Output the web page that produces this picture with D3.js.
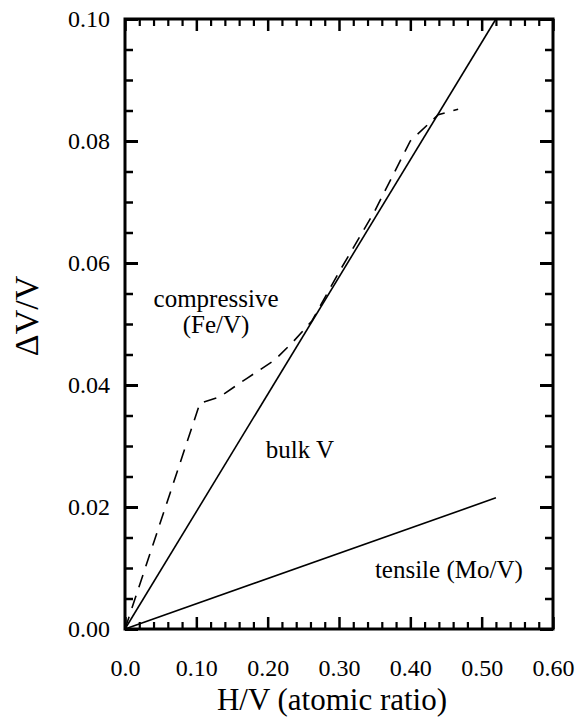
<!DOCTYPE html>
<html>
<head>
<meta charset="utf-8">
<script src="https://cdn.jsdelivr.net/npm/d3@7"></script>
<style>
  body { margin: 0; background: #fff; }
  svg { display: block; }
</style>
</head>
<body>
<div id="app"></div>
<script>
// data
const bulkX = [0, 0.52];
const bulkY = [0, 0.100];
const tensileX = [0, 0.52];
const tensileY = [0, 0.0215];
const compX = [0, 0.105, 0.132, 0.171, 0.210, 0.235, 0.262, 0.30, 0.35, 0.40, 0.439, 0.467];
const compY = [0, 0.037, 0.038, 0.0411, 0.0441, 0.0470, 0.0505, 0.0585, 0.0685, 0.0800, 0.0843, 0.0852];

const xMajor = [0, 0.1, 0.2, 0.3, 0.4, 0.5, 0.6];
const xMinor = d3.range(0.02, 0.6, 0.02).filter(v => Math.abs(v * 10 - Math.round(v * 10)) > 1e-6);
const yMajor = [0, 0.02, 0.04, 0.06, 0.08, 0.10];
const yMinor = d3.range(0.005, 0.1, 0.005).filter(v => Math.abs(v * 50 - Math.round(v * 50)) > 1e-6);

const labels = [
  { lines: ['compressive', '(Fe/V)'], x: 0.1276, y: 0.0528 },
  { lines: ['bulk V'], x: 0.2453, y: 0.0280 },
  { lines: ['tensile (Mo/V)'], x: 0.454, y: 0.0084 }
];

const FONT = '"Liberation Serif", "Times New Roman", Times, "DejaVu Serif", "Liberation Sans", sans-serif';

const W = 585, H = 719;
const pLeft = 125, pRight = 553, pTop = 19, pBottom = 629;

const x = d3.scaleLinear().domain([0, 0.6]).range([pLeft, pRight]);
const y = d3.scaleLinear().domain([0, 0.1]).range([pBottom, pTop]);

const svg = d3.select('#app').append('svg')
  .attr('width', W).attr('height', H)
  .attr('font-family', FONT);

svg.append('rect').attr('width', W).attr('height', H).attr('fill', '#fff');

// axes: ticks point inward
function styleAxis(g, sw) {
  g.attr('font-family', FONT).attr('font-size', 24);
  g.select('.domain').remove();
  g.selectAll('line').attr('stroke', '#000').attr('stroke-width', sw);
  g.selectAll('text').attr('fill', '#000');
}

const fmtX = d => d === 0 ? '0.0' : d3.format('.2f')(d);

svg.append('g').attr('transform', `translate(0,${pBottom})`)
  .call(d3.axisBottom(x).tickValues(xMajor).tickSize(-12).tickPadding(30).tickFormat(fmtX))
  .call(g => styleAxis(g, 2.5));
svg.append('g').attr('transform', `translate(0,${pBottom})`)
  .call(d3.axisBottom(x).tickValues(xMinor).tickSize(-7).tickFormat(''))
  .call(g => styleAxis(g, 2.2));

svg.append('g').attr('transform', `translate(0,${pTop})`)
  .call(d3.axisTop(x).tickValues(xMajor).tickSize(-12).tickFormat(''))
  .call(g => styleAxis(g, 2.5));
svg.append('g').attr('transform', `translate(0,${pTop})`)
  .call(d3.axisTop(x).tickValues(xMinor).tickSize(-7).tickFormat(''))
  .call(g => styleAxis(g, 2.2));

svg.append('g').attr('transform', `translate(${pLeft},0)`)
  .call(d3.axisLeft(y).tickValues(yMajor).tickSize(-13).tickPadding(15).tickFormat(d3.format('.2f')))
  .call(g => styleAxis(g, 3));
svg.append('g').attr('transform', `translate(${pLeft},0)`)
  .call(d3.axisLeft(y).tickValues(yMinor).tickSize(-8).tickFormat(''))
  .call(g => styleAxis(g, 2.5));

svg.append('g').attr('transform', `translate(${pRight},0)`)
  .call(d3.axisRight(y).tickValues(yMajor).tickSize(-13).tickFormat(''))
  .call(g => styleAxis(g, 3));
svg.append('g').attr('transform', `translate(${pRight},0)`)
  .call(d3.axisRight(y).tickValues(yMinor).tickSize(-8).tickFormat(''))
  .call(g => styleAxis(g, 2.5));

// frame
svg.append('rect')
  .attr('x', pLeft).attr('y', pTop)
  .attr('width', pRight - pLeft).attr('height', pBottom - pTop)
  .attr('fill', 'none').attr('stroke', '#000').attr('stroke-width', 3);

// lines
const line = d3.line().x(d => x(d[0])).y(d => y(d[1]));

svg.append('path')
  .datum(d3.zip(bulkX, bulkY))
  .attr('d', line).attr('fill', 'none').attr('stroke', '#000').attr('stroke-width', 1.6);

svg.append('path')
  .datum(d3.zip(tensileX, tensileY))
  .attr('d', line).attr('fill', 'none').attr('stroke', '#000').attr('stroke-width', 1.6);

svg.append('path')
  .datum(d3.zip(compX, compY))
  .attr('d', line).attr('fill', 'none').attr('stroke', '#000').attr('stroke-width', 1.6)
  .attr('stroke-dasharray', '13,9');

// annotations
labels.forEach(l => {
  const t = svg.append('text')
    .attr('x', x(l.x)).attr('y', y(l.y))
    .attr('text-anchor', 'middle').attr('font-size', 25);
  l.lines.forEach((s, i) => {
    t.append('tspan').attr('x', x(l.x)).attr('dy', i === 0 ? 0 : '1.04em').text(s);
  });
});

// axis titles
svg.append('text')
  .attr('x', 332).attr('y', 710)
  .attr('text-anchor', 'middle').attr('font-size', 31)
  .text('H/V (atomic ratio)');

svg.append('text')
  .attr('transform', `translate(38,316) rotate(-90)`)
  .attr('text-anchor', 'middle').attr('font-size', 34)
  .text('ΔV/V');
</script>
</body>
</html>
